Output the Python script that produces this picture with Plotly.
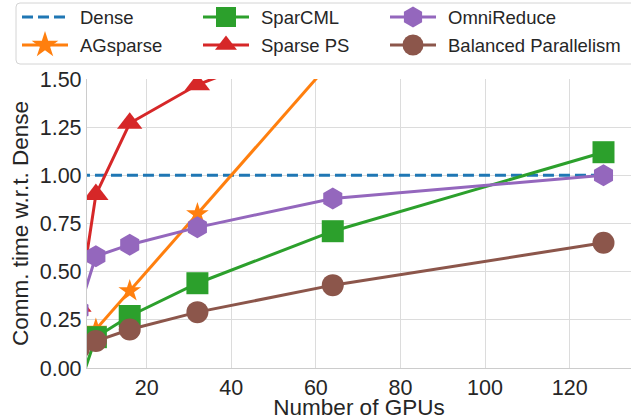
import plotly.graph_objects as go

# GPU counts and communication time relative to Dense all-reduce
gpus = [4, 8, 16, 32, 64, 128]
dense = [1.0, 1.0, 1.0, 1.0, 1.0, 1.0]
agsparse = [0.10, 0.20, 0.40, 0.80, 1.60, 3.20]
sparcml = [-0.10, 0.16, 0.27, 0.44, 0.71, 1.12]
sparse_ps = [0.32, 0.90, 1.27, 1.47, 1.74, 2.00]
omnireduce = [0.30, 0.58, 0.64, 0.73, 0.88, 1.00]
balanced = [0.10, 0.14, 0.20, 0.29, 0.43, 0.65]

x_ticks = [20, 40, 60, 80, 100, 120]
y_ticks = [0.0, 0.25, 0.5, 0.75, 1.0, 1.25, 1.5]
y_ticklabels = ["0.00", "0.25", "0.50", "0.75", "1.00", "1.25", "1.50"]

FONT = "Liberation Sans"
TXT = "#262626"

series = [
    # name, values, color, symbol, marker size, dash
    ("Dense", dense, "#1f77b4", None, 0, "11px,5px"),
    ("AGsparse", agsparse, "#ff7f0e", "star", 17, "solid"),
    ("SparCML", sparcml, "#2ca02c", "square", 22, "solid"),
    ("Sparse PS", sparse_ps, "#d62728", "triangle-up", 22, "solid"),
    ("OmniReduce", omnireduce, "#9467bd", "hexagon", 22, "solid"),
    ("Balanced Parallelism", balanced, "#8c564b", "circle", 22, "solid"),
]

W, H = 631, 420
# main plot area in pixels: left, right, top, bottom edges
PL, PR, PT, PB = 87, 631, 79, 368
# legend strip height in pixels (drawn in its own pixel-unit subplot)
LEG_H = 66

fig = go.Figure()
for name, vals, color, sym, msize, dash in series:
    tr = dict(x=gpus, y=vals, name=name, showlegend=False,
              line=dict(color=color, width=3, dash=dash),
              xaxis="x", yaxis="y")
    if sym is None:
        fig.add_trace(go.Scatter(mode="lines", **tr))
    else:
        fig.add_trace(go.Scatter(
            mode="lines+markers",
            marker=dict(symbol=sym, size=msize, color=color, line=dict(width=0)),
            **tr))

# legend: 3 columns x 2 rows, swatch = short line with the marker in the middle
leg_text_x = [80, 261, 448]
leg_row_y = [17, 45]
leg_sizes = {"star": 20, "square": 20, "triangle-up": 19, "hexagon": 21, "circle": 21}
annotations = []
for i, (name, vals, color, sym, msize, dash) in enumerate(series):
    col, row = divmod(i, 2)
    tx, ty = leg_text_x[col], leg_row_y[row]
    lx0, lx1, mx = tx - 58, tx - 12, tx - 35
    fig.add_trace(go.Scatter(
        x=[lx0, lx1], y=[ty, ty], mode="lines", showlegend=False, hoverinfo="skip",
        line=dict(color=color, width=3, dash=dash), xaxis="x2", yaxis="y2"))
    if sym is not None:
        fig.add_trace(go.Scatter(
            x=[mx], y=[ty], mode="markers", showlegend=False, hoverinfo="skip",
            marker=dict(symbol=sym, size=leg_sizes[sym], color=color, line=dict(width=0)),
            xaxis="x2", yaxis="y2"))
    annotations.append(dict(
        x=tx, y=ty, xref="x2", yref="y2", text=name, showarrow=False,
        xanchor="left", yanchor="middle", xshift=-2,
        font=dict(family=FONT, size=18.5, color=TXT)))

# rounded legend frame in legend-strip pixels
bx0, bx1, by0, by1, r = 16, 660, 3, 64, 4
frame = (
    f"M {bx0 + r},{by0} L {bx1 - r},{by0} Q {bx1},{by0} {bx1},{by0 + r} "
    f"L {bx1},{by1 - r} Q {bx1},{by1} {bx1 - r},{by1} L {bx0 + r},{by1} "
    f"Q {bx0},{by1} {bx0},{by1 - r} L {bx0},{by0 + r} Q {bx0},{by0} {bx0 + r},{by0} Z"
)

fig.update_layout(
    width=W, height=H,
    margin=dict(l=0, r=0, t=0, b=0, pad=0, autoexpand=False),
    paper_bgcolor="white", plot_bgcolor="white",
    font=dict(family=FONT, color=TXT),
    showlegend=False,
    annotations=annotations,
    shapes=[dict(type="path", path=frame, xref="x2", yref="y2",
                 fillcolor="white", line=dict(color="#d4d4d4", width=1), layer="below")],
    xaxis=dict(
        domain=[PL / W, PR / W], anchor="y",
        range=[5.9, 134.5], tickvals=x_ticks, ticks="",
        showgrid=True, gridcolor="#dcdcdc", gridwidth=1,
        showline=True, linecolor="#cccccc", linewidth=1.2,
        zeroline=False, tickfont=dict(family=FONT, size=21.5, color=TXT),
        title=dict(text="Number of GPUs", font=dict(family=FONT, size=22.5, color=TXT), standoff=1),
    ),
    yaxis=dict(
        domain=[1 - PB / H, 1 - PT / H], anchor="x",
        range=[0, 1.5], tickvals=y_ticks, ticktext=y_ticklabels, ticks="",
        showgrid=True, gridcolor="#dcdcdc", gridwidth=1,
        showline=True, linecolor="#cccccc", linewidth=1.2,
        zeroline=False, tickfont=dict(family=FONT, size=21.5, color=TXT),
        title=dict(text="Comm. time w.r.t. Dense", font=dict(family=FONT, size=22.5, color=TXT), standoff=4),
    ),
    xaxis2=dict(domain=[0, 1], anchor="y2", range=[0, W], visible=False, fixedrange=True),
    yaxis2=dict(domain=[1 - LEG_H / H, 1], anchor="x2", range=[LEG_H, 0], visible=False, fixedrange=True),
)

fig.write_html("out.html")
